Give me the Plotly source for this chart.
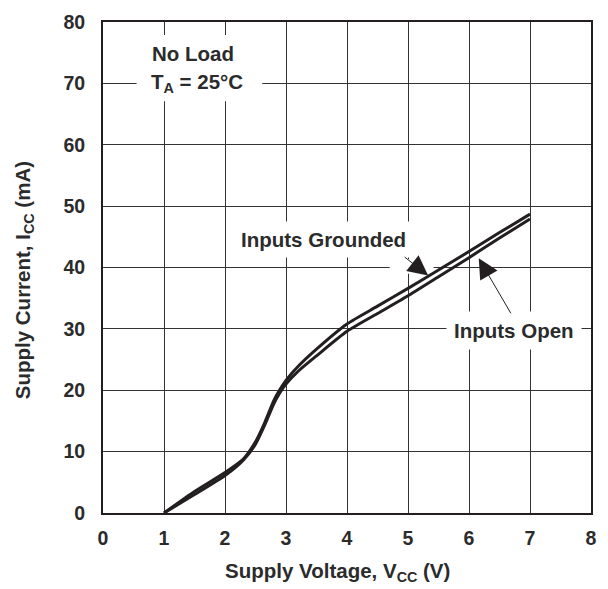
import plotly.graph_objects as go

# Data
v_grounded = [1.0, 1.5, 2.0, 2.3, 2.5, 2.65, 2.8, 2.9, 3.0, 3.2, 3.5, 4.0, 4.5, 5.0, 5.5, 6.0, 6.5, 7.0]
i_grounded = [0.0, 3.5, 6.6, 8.8, 11.6, 14.7, 18.3, 20.1, 21.6, 23.9, 26.7, 30.8, 33.7, 36.6, 39.6, 42.6, 45.7, 48.7]
v_open = [1.0, 1.5, 2.0, 2.3, 2.5, 2.65, 2.8, 2.9, 3.0, 3.2, 3.5, 4.0, 4.5, 5.0, 5.5, 6.0, 6.5, 7.0]
i_open = [0.0, 3.0, 6.1, 8.6, 11.2, 14.3, 17.8, 19.6, 21.0, 23.1, 25.6, 29.6, 32.5, 35.4, 38.5, 41.6, 44.8, 47.9]

x_ticks = [0, 1, 2, 3, 4, 5, 6, 7, 8]
y_ticks = [0, 10, 20, 30, 40, 50, 60, 70, 80]

FONT = "Liberation Sans, Arial, sans-serif"
INK = "#231f20"
TXT = "#2b2b2b"

fig = go.Figure()
fig.add_trace(go.Scatter(x=v_grounded, y=i_grounded, mode="lines",
                         line=dict(color=INK, width=3, shape="spline", smoothing=0.6),
                         name="Inputs Grounded", hoverinfo="skip"))
fig.add_trace(go.Scatter(x=v_open, y=i_open, mode="lines",
                         line=dict(color=INK, width=3, shape="spline", smoothing=0.6),
                         name="Inputs Open", hoverinfo="skip"))

# white boxes behind labels (break the grid like the reference)
fig.add_shape(type="rect", x0=0.55, x1=2.61, y0=67.1, y1=77.9, layer="between",
              fillcolor="white", line=dict(width=0))
fig.add_shape(type="rect", x0=4.7, x1=5.42, y0=39.0, y1=41.4, layer="between",
              fillcolor="white", line=dict(width=0))

lab = dict(family=FONT, size=20.5, color=TXT)
tick = dict(family=FONT, size=19.5, color=TXT)
anns = [
    dict(x=0.77, y=74.8, text="<b>No Load</b>", xanchor="left", yanchor="middle", showarrow=False, font=lab),
    dict(x=0.75, y=70.0, text="<b>T<sub>A</sub> = 25°C</b>", xanchor="left", yanchor="middle", showarrow=False, font=lab),
    dict(x=3.62, y=44.6, text="<b>Inputs Grounded</b>", showarrow=False, font=lab,
         bgcolor="white", borderpad=6),
    dict(x=6.73, y=29.8, text="<b>Inputs Open</b>", showarrow=False, font=lab,
         bgcolor="white", borderpad=7),
    dict(x=5.33, y=38.7, ax=4.92, ay=41.9, axref="x", ayref="y", xref="x", yref="y",
         text="", showarrow=True, arrowhead=2, arrowsize=4, arrowwidth=1, arrowcolor=INK),
    dict(x=6.16, y=41.5, ax=6.70, ay=32.3, axref="x", ayref="y", xref="x", yref="y",
         text="", showarrow=True, arrowhead=2, arrowsize=4, arrowwidth=1, arrowcolor=INK),
    dict(x=0.4795, y=-0.12, xref="paper", yref="paper", showarrow=False,
         text="<b>Supply Voltage, V<sub>CC</sub> (V)</b>", font=lab, xanchor="center", yanchor="middle"),
    dict(x=-0.163, y=0.475, xref="paper", yref="paper", showarrow=False, textangle=-90,
         text="<b>Supply Current, I<sub>CC</sub> (mA)</b>", font=lab, xanchor="center", yanchor="middle"),
]
# x title centre at pixel ~340 -> paper x = (340-103)/494
anns[6]["x"] = (340 - 103) / 494
fig.update_layout(annotations=anns)

fig.update_xaxes(range=[0, 8], tickvals=x_ticks, ticktext=[f"<b>{t}</b>" for t in x_ticks],
                 showgrid=True, gridcolor="#333333", gridwidth=1,
                 showline=True, mirror=True, linecolor=INK, linewidth=2,
                 ticks="", zeroline=False, tickfont=tick, ticklabelstandoff=7)
fig.update_yaxes(range=[0, 80], tickvals=y_ticks, ticktext=[f"<b>{t}</b>" for t in y_ticks],
                 showgrid=True, gridcolor="#333333", gridwidth=1,
                 showline=True, mirror=True, linecolor=INK, linewidth=2,
                 ticks="", zeroline=False, tickfont=tick, ticklabelstandoff=12)

fig.update_layout(width=608, height=589, margin=dict(l=103, r=11, t=15, b=76),
                  paper_bgcolor="white", plot_bgcolor="white", showlegend=False,
                  font=dict(family=FONT))

fig.write_html("out.html", config={"displayModeBar": False},
               post_script="document.body.style.margin='0';document.body.style.overflow='hidden';")
